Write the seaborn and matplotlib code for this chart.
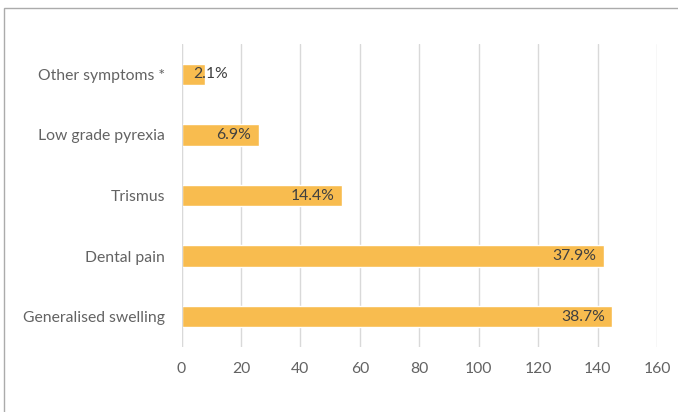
import matplotlib
matplotlib.use("Agg")
import matplotlib.pyplot as plt
import seaborn as sns
import pandas as pd
from matplotlib.patches import Rectangle

# Presenting symptoms: patient counts and share of all reported symptoms
symptoms = ["Other symptoms *", "Low grade pyrexia", "Trismus", "Dental pain", "Generalised swelling"]
counts = [8, 26, 54, 142, 145]
percent_labels = ["2.1%", "6.9%", "14.4%", "37.9%", "38.7%"]
x_ticks = [0, 20, 40, 60, 80, 100, 120, 140, 160]

df = pd.DataFrame({"symptom": symptoms, "count": counts, "label": percent_labels})

sns.set_theme(style="white")
plt.rcParams["font.family"] = ["Lato", "DejaVu Sans"]

fig = plt.figure(figsize=(6.78, 4.12), dpi=100)
ax = fig.add_axes([181.5 / 678, 1 - 347 / 412, (657 - 181.5) / 678, (347 - 44) / 412])

bar_color = "#F8BC4F"
sns.barplot(data=df, x="count", y="symptom", orient="h", color=bar_color,
            width=0.35, saturation=1, ax=ax, zorder=3)

ax.set_xlim(0, 160)
ax.set_ylim(4.5, -0.5)
ax.set_xticks(x_ticks)
ax.set_xticklabels([str(t) for t in x_ticks])
ax.set_xlabel("")
ax.set_ylabel("")

ax.grid(axis="x", color="#D9D9D9", linewidth=1, zorder=0)
for s in ax.spines.values():
    s.set_visible(False)
ax.axvline(0, color="#D9D9D9", linewidth=1.5, zorder=4)

ax.tick_params(axis="x", length=0, pad=10.5, labelsize=11.3, labelcolor="#636363")
ax.tick_params(axis="y", length=0, pad=12, labelsize=11.3, labelcolor="#636363")

# Percentage labels at the inner end of each bar
for i, (v, lab) in enumerate(zip(counts, percent_labels)):
    if v >= 20:
        ax.annotate(lab, xy=(v, i), xytext=(-5.5, 0), textcoords="offset points",
                    ha="right", va="center", fontsize=11.3, color="#404040", zorder=5)
    else:
        ax.annotate(lab, xy=(0, i), xytext=(8.5, 0), textcoords="offset points",
                    ha="left", va="center", fontsize=11.3, color="#404040", zorder=5)

# Chart-area frame
fig.patches.append(Rectangle((4 / 678, -0.1), 1.2, 1 - 8 / 412 + 0.1,
                             transform=fig.transFigure, fill=False,
                             edgecolor="#ABABAB", linewidth=1))

fig.savefig("out.png", dpi=100)
